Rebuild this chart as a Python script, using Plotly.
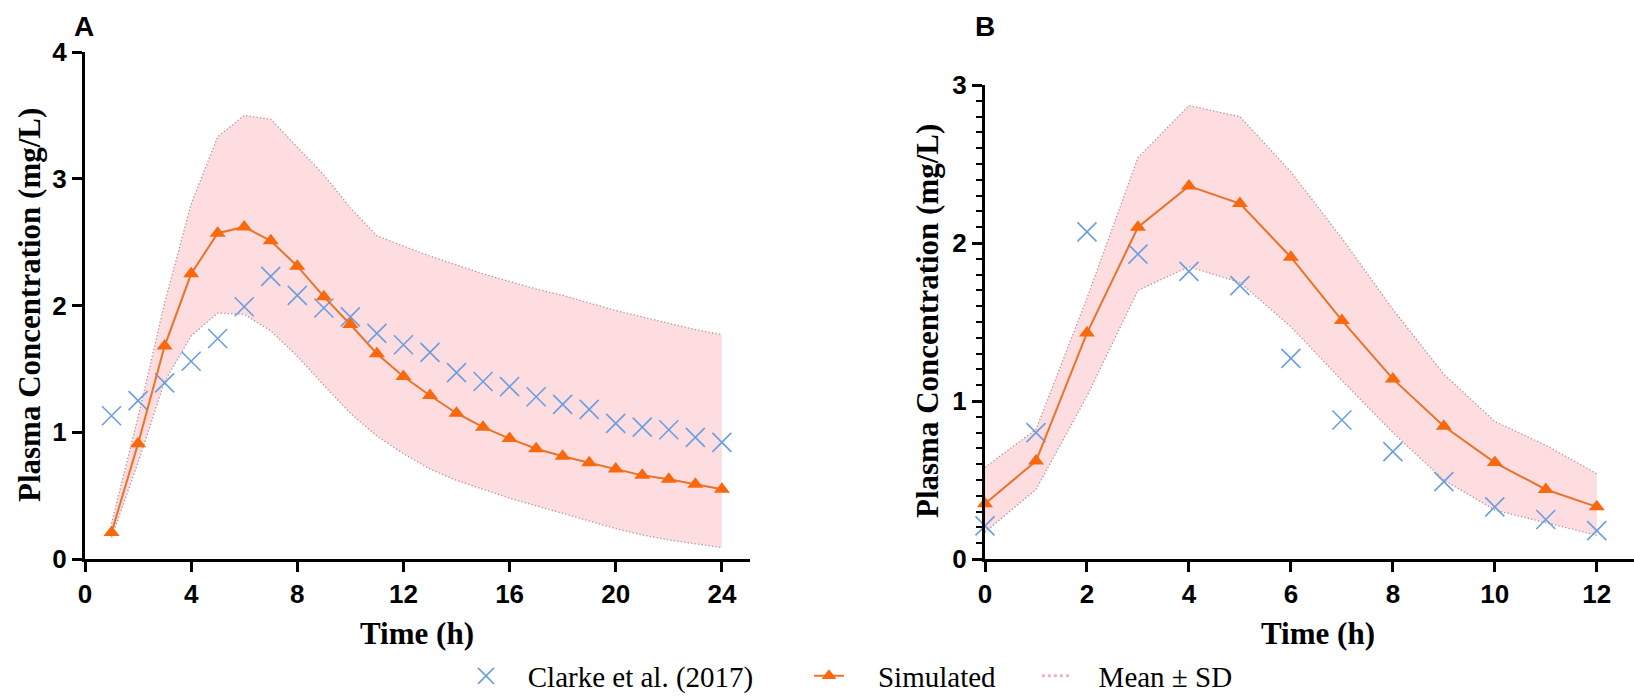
import plotly.graph_objects as go

# ---------------- data ----------------
time_A = list(range(1, 25))
clarke_A = [1.13, 1.25, 1.39, 1.56, 1.74, 1.99, 2.23, 2.08, 1.98, 1.91, 1.78, 1.69,
            1.63, 1.47, 1.40, 1.36, 1.28, 1.22, 1.18, 1.07, 1.04, 1.02, 0.96, 0.92]
sim_A = [0.21, 0.91, 1.68, 2.25, 2.57, 2.62, 2.51, 2.31, 2.07, 1.85, 1.62, 1.44,
         1.29, 1.15, 1.04, 0.95, 0.87, 0.81, 0.76, 0.71, 0.66, 0.63, 0.59, 0.55]
upper_A = [0.28, 1.12, 2.02, 2.80, 3.33, 3.50, 3.47, 3.25, 3.03, 2.77, 2.55, 2.47,
           2.39, 2.32, 2.25, 2.19, 2.13, 2.08, 2.02, 1.96, 1.91, 1.86, 1.81, 1.77]
lower_A = [0.17, 0.76, 1.40, 1.76, 1.94, 1.93, 1.80, 1.60, 1.37, 1.15, 0.97, 0.83,
           0.71, 0.62, 0.55, 0.48, 0.42, 0.36, 0.30, 0.24, 0.19, 0.15, 0.12, 0.09]

time_B = list(range(0, 13))
clarke_B = [0.21, 0.80, 2.07, 1.93, 1.82, 1.73, 1.27, 0.88, 0.68, 0.49, 0.33, 0.25, 0.18]
sim_B = [0.35, 0.62, 1.43, 2.10, 2.36, 2.25, 1.91, 1.51, 1.14, 0.84, 0.61, 0.44, 0.33]
upper_B = [0.58, 0.82, 1.65, 2.54, 2.87, 2.80, 2.45, 2.03, 1.58, 1.17, 0.87, 0.72, 0.54]
lower_B = [0.17, 0.44, 1.03, 1.70, 1.85, 1.75, 1.47, 1.13, 0.80, 0.50, 0.31, 0.23, 0.15]

ticks_xA = [0, 4, 8, 12, 16, 20, 24]
ticks_xB = [0, 2, 4, 6, 8, 10, 12]
ticks_yA = [0, 1, 2, 3, 4]
ticks_yB = [0, 1, 2, 3]

legend_names = ["Clarke et al. (2017)", "Simulated", "Mean ± SD"]

# ---------------- style ----------------
W, H = 1634, 697
BLUE = "#6a9ee0"
ORANGE_M = "#f9680c"
ORANGE_L = "#e8732a"
BAND_FILL = "#fddde0"
BAND_LINE = "#b0949c"
LEG_BAND = "#f3b3c0"
NB = "\u00a0"

def px_x(p):
    return p / W

def px_y(p):
    return (H - p) / H

fig = go.Figure()

def add_panel(xa, ya, t, clarke, sim, up, lo):
    fig.add_trace(go.Scatter(x=t, y=up, mode="lines", xaxis=xa, yaxis=ya,
                             line=dict(color=BAND_LINE, width=1.3, dash="1.3px,2.2px"),
                             showlegend=False, hoverinfo="skip"))
    fig.add_trace(go.Scatter(x=t, y=lo, mode="lines", xaxis=xa, yaxis=ya,
                             line=dict(color=BAND_LINE, width=1.3, dash="1.3px,2.2px"),
                             fill="tonexty", fillcolor=BAND_FILL,
                             showlegend=False, hoverinfo="skip"))
    fig.add_trace(go.Scatter(x=t, y=clarke, mode="markers", xaxis=xa, yaxis=ya,
                             marker=dict(symbol="x-thin-open", size=19, color=BLUE,
                                         line=dict(color=BLUE, width=1.6)),
                             cliponaxis=False, showlegend=False))
    fig.add_trace(go.Scatter(x=t, y=sim, mode="lines+markers", xaxis=xa, yaxis=ya,
                             line=dict(color=ORANGE_L, width=2),
                             marker=dict(symbol="triangle-up", size=14, color=ORANGE_M),
                             cliponaxis=False, showlegend=False))

add_panel("x", "y", time_A, clarke_A, sim_A, upper_A, lower_A)
add_panel("x2", "y2", time_B, clarke_B, sim_B, upper_B, lower_B)

# legend-only traces
fig.add_trace(go.Scatter(x=[None], y=[None], mode="markers",
                         name=NB * 3 + legend_names[0] + NB * 7,
                         marker=dict(symbol="x-thin-open", size=16, color=BLUE,
                                     line=dict(color=BLUE, width=1.6))))
fig.add_trace(go.Scatter(x=[None], y=[None], mode="lines+markers",
                         name=NB * 4 + legend_names[1] + NB * 5,
                         line=dict(color=ORANGE_L, width=2),
                         marker=dict(symbol="triangle-up", size=13, color=ORANGE_M)))
fig.add_trace(go.Scatter(x=[None], y=[None], mode="lines",
                         name=NB * 3 + legend_names[2],
                         line=dict(color=LEG_BAND, width=3, dash="3px,3px")))

tickfont = dict(family="Liberation Sans", size=26, color="black", weight="bold")
axis_common = dict(showline=True, linecolor="black", linewidth=3, ticks="outside",
                   ticklen=10, tickwidth=3, tickcolor="black", showgrid=False,
                   zeroline=False, tickfont=tickfont, fixedrange=True,
                   automargin=False)

fig.update_layout(
    width=W, height=H, margin=dict(l=0, r=0, t=0, b=0, autoexpand=False),
    paper_bgcolor="white", plot_bgcolor="white",
    xaxis=dict(domain=[px_x(85), px_x(750)], range=[0, 25.06], tickvals=ticks_xA,
               anchor="y", **axis_common),
    yaxis=dict(domain=[px_y(559), px_y(52)], range=[0, 4], tickvals=ticks_yA,
               anchor="x", **axis_common),
    xaxis2=dict(domain=[px_x(985), 1.0], range=[0, 12.73], tickvals=ticks_xB,
                anchor="y2", **axis_common),
    yaxis2=dict(domain=[px_y(559), px_y(85)], range=[0, 3], tickvals=ticks_yB,
                anchor="x2",
                minor=dict(dtick=0.1, ticks="outside", ticklen=6, tickwidth=2,
                           tickcolor="black", showgrid=False),
                **axis_common),
    legend=dict(orientation="h", x=px_x(466), xanchor="left", y=px_y(676),
                yanchor="middle", font=dict(family="Liberation Serif", size=29,
                                            color="black"),
                bgcolor="rgba(0,0,0,0)", traceorder="normal"),
    showlegend=True,
)

title_font = dict(family="Liberation Serif", size=31, color="black", weight="bold")
label_font = dict(family="Liberation Sans", size=28, color="black", weight="bold")
annotations = [
    dict(text="A", x=px_x(84), y=px_y(27), font=label_font),
    dict(text="B", x=px_x(985), y=px_y(26), font=label_font),
    dict(text="Time (h)", x=px_x(417), y=px_y(633), font=title_font),
    dict(text="Time (h)", x=px_x(1318), y=px_y(633), font=title_font),
    dict(text="Plasma Concentration (mg/L)", x=px_x(29), y=px_y(305),
         font=title_font, textangle=-90),
    dict(text="Plasma Concentration (mg/L)", x=px_x(927), y=px_y(321),
         font=title_font, textangle=-90),
]
for a in annotations:
    fig.add_annotation(xref="paper", yref="paper", showarrow=False,
                       xanchor="center", yanchor="middle", **a)

fig.write_html(
    "out.html",
    config={"displayModeBar": False},
    post_script="document.body.style.margin='0';document.body.style.overflow='hidden';",
)
